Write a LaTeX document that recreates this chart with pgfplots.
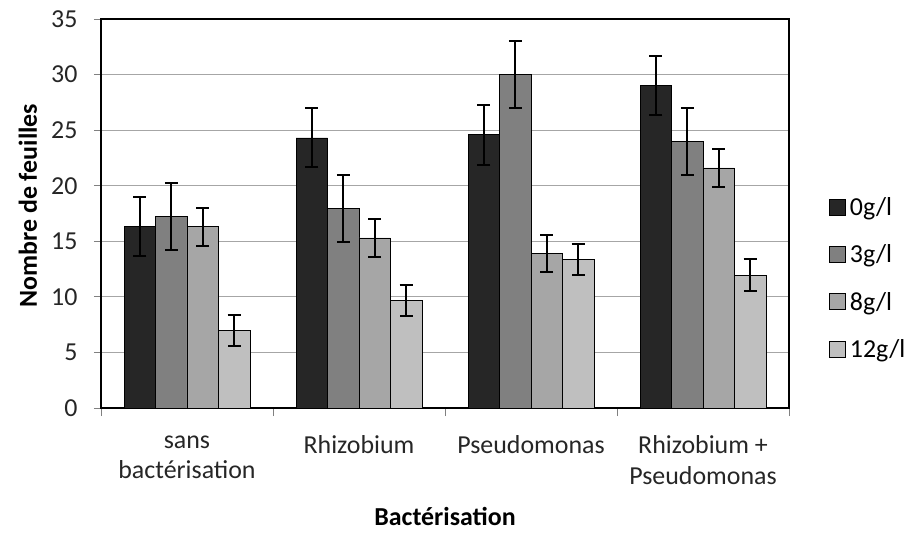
\documentclass[border=0pt]{standalone}
\usepackage{fontspec}
\setmainfont{Carlito}
\usepackage{pgfplots}
\pgfplotsset{compat=1.18}

\definecolor{s0}{HTML}{262626}
\definecolor{s3}{HTML}{808080}
\definecolor{s8}{HTML}{A6A6A6}
\definecolor{s12}{HTML}{BFBFBF}
\definecolor{gridgray}{HTML}{A6A6A6}

\newcommand{\lblfont}{\fontsize{26}{31}\selectfont}

\begin{document}
\begin{tikzpicture}
\path[use as bounding box] (-101bp,-125bp) rectangle (815bp,408bp);
\begin{axis}[
  at={(0,0)}, anchor=south west,
  scale only axis, width=688bp, height=389bp,
  xmin=-0.5, xmax=3.5, ymin=0, ymax=35,
  ybar=0pt, bar width=0.183,
  ytick={0,5,...,35},
  ymajorgrids, grid style={gridgray, line width=0.9bp},
  xtick={0,1,2,3},
  xticklabels={{sans\\bactérisation},Rhizobium,Pseudomonas,{Rhizobium +\\Pseudomonas}},
  minor xtick={-0.5,0.5,1.5,2.5,3.5},
  major x tick style={draw=none},
  tick align=outside, tick pos=left,
  major tick length=7bp, minor tick length=8bp,
  every tick/.style={gray, line width=0.8bp},
  axis line style={black, line width=2.2bp},
  /pgf/number format/assume math mode=true,
  tick label style={font=\lblfont, text=black!85},
  xticklabel style={align=center, yshift=-17bp},
  yticklabel style={xshift=-13bp},
  ylabel={\textbf{Nombre de feuilles}},
  ylabel style={font=\lblfont, at={(axis description cs:0,0.52)}, yshift=73bp, anchor=center},
  xlabel={\textbf{Bactérisation}},
  xlabel style={font=\lblfont, at={(axis description cs:0.5,0)}, yshift=-108bp, anchor=center},
  legend image code/.code={\draw[#1, draw=black, line width=0.7bp] (0bp,-8bp) rectangle (16bp,8bp);},
  legend style={draw=none, fill=none, at={(1,0.334)}, anchor=west, xshift=40bp,
    font=\lblfont, row sep=24bp, inner sep=0pt,
    nodes={inner xsep=4bp}},
  legend cell align=left,
  error bars/y dir=both, error bars/y explicit,
  error bars/error bar style={black, line width=2bp},
  error bars/error mark options={rotate=90, mark size=6.5bp, line width=2bp, black},
]
% 0 g/l
\addplot[fill=s0, draw=black, line width=0.7bp] coordinates {
  (0,16.35) +- (0,2.65)
  (1,24.3)  +- (0,2.65)
  (2,24.6)  +- (0,2.7)
  (3,29.0)  +- (0,2.65)
};
% 3 g/l
\addplot[fill=s3, draw=black, line width=0.7bp] coordinates {
  (0,17.25) +- (0,3.0)
  (1,17.95) +- (0,3.0)
  (2,30.0)  +- (0,3.0)
  (3,23.95) +- (0,3.0)
};
% 8 g/l
\addplot[fill=s8, draw=black, line width=0.7bp] coordinates {
  (0,16.3)  +- (0,1.7)
  (1,15.3)  +- (0,1.7)
  (2,13.9)  +- (0,1.7)
  (3,21.6)  +- (0,1.7)
};
% 12 g/l
\addplot[fill=s12, draw=black, line width=0.7bp] coordinates {
  (0,6.95)  +- (0,1.4)
  (1,9.65)  +- (0,1.4)
  (2,13.35) +- (0,1.4)
  (3,11.95) +- (0,1.45)
};
\legend{0g/l,3g/l,8g/l,12g/l}
\end{axis}
\end{tikzpicture}
\end{document}
